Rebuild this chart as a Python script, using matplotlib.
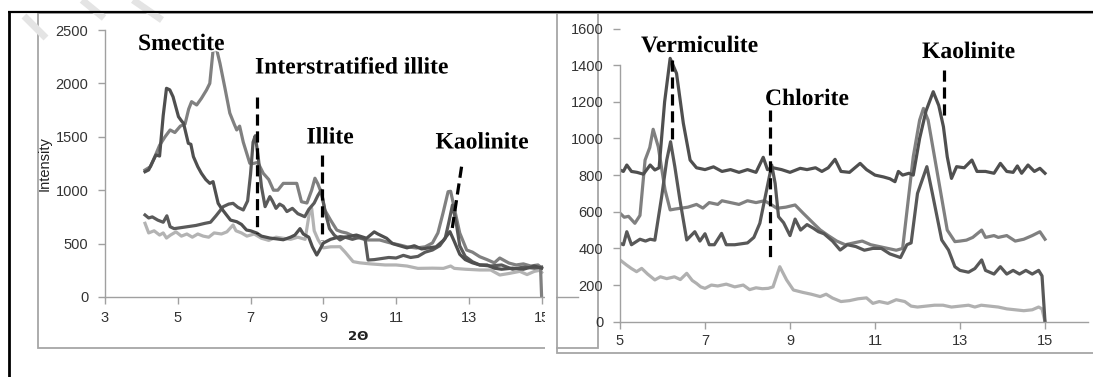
import matplotlib
matplotlib.use("Agg")
import matplotlib.pyplot as plt
import matplotlib.patheffects as pe
from matplotlib.patches import Rectangle

W, H = 1093, 377

# ---------------- Left chart data ----------------
left_xticks = [3, 5, 7, 9, 11, 13, 15]
left_yticks = [0, 500, 1000, 1500, 2000, 2500]

A_x = [4.1, 4.25, 4.37, 4.5, 4.65, 4.79, 4.92, 5.07, 5.2, 5.3, 5.38, 5.52, 5.65, 5.79, 5.88, 5.98, 6.05, 6.16, 6.3, 6.43, 6.55, 6.62, 6.7, 6.8, 6.98, 7.07, 7.2, 7.35, 7.5, 7.63, 7.75, 7.9, 8.1, 8.27, 8.4, 8.55, 8.68, 8.77, 8.85, 8.95, 9.04, 9.2, 9.37, 9.5, 9.64, 9.9, 10.2, 10.55, 10.8, 11.1, 11.3, 11.56, 11.8, 12.0, 12.15, 12.29, 12.43, 12.5, 12.57, 12.75, 12.94, 13.1, 13.3, 13.5, 13.7, 13.85, 14.1, 14.3, 14.5, 14.7, 14.9, 14.97, 15.0]
A_y = [1189, 1220, 1314, 1420, 1500, 1564, 1540, 1600, 1620, 1760, 1829, 1798, 1860, 1938, 2000, 2344, 2344, 2188, 1950, 1722, 1620, 1564, 1600, 1450, 1252, 1250, 1260, 1158, 1100, 1000, 1000, 1064, 1064, 1064, 892, 880, 1000, 1112, 1060, 972, 815, 720, 627, 610, 599, 560, 534, 534, 510, 487, 470, 459, 470, 506, 600, 786, 986, 990, 880, 599, 440, 420, 377, 350, 320, 365, 318, 300, 310, 290, 300, 280, 0]

B_x = [4.1, 4.2, 4.3, 4.4, 4.5, 4.6, 4.69, 4.78, 4.87, 5.02, 5.1, 5.16, 5.29, 5.36, 5.43, 5.55, 5.65, 5.77, 5.88, 5.97, 6.11, 6.2, 6.34, 6.45, 6.62, 6.75, 6.89, 7.0, 7.17, 7.3, 7.53, 7.7, 7.9, 8.1, 8.22, 8.36, 8.45, 8.6, 8.7, 8.82, 8.9, 9.0, 9.2, 9.46, 9.6, 9.91, 10.19, 10.4, 10.5, 10.74, 10.9, 11.1, 11.3, 11.5, 11.7, 11.9, 12.1, 12.3, 12.48, 12.6, 12.75, 12.9, 13.1, 13.3, 13.5, 13.7, 13.9, 14.2, 14.5, 14.8, 15.0]
B_y = [1173, 1190, 1260, 1330, 1320, 1700, 1954, 1940, 1875, 1688, 1650, 1625, 1439, 1430, 1314, 1220, 1158, 1100, 1064, 1080, 877, 830, 768, 720, 705, 680, 627, 620, 599, 570, 552, 545, 536, 560, 580, 640, 590, 560, 470, 393, 440, 505, 540, 565, 560, 580, 550, 610, 590, 550, 500, 480, 460, 480, 450, 460, 470, 530, 612, 520, 400, 350, 320, 300, 300, 270, 260, 270, 260, 290, 270]

C_x = [4.1, 4.2, 4.3, 4.45, 4.6, 4.7, 4.79, 4.9, 5.1, 5.3, 5.5, 5.75, 5.9, 6.05, 6.25, 6.4, 6.52, 6.65, 6.8, 6.92, 7.0, 7.07, 7.13, 7.21, 7.3, 7.4, 7.53, 7.6, 7.7, 7.8, 7.9, 8.0, 8.15, 8.3, 8.49, 8.6, 8.75, 8.85, 8.94, 9.05, 9.17, 9.3, 9.46, 9.6, 9.8, 10.0, 10.15, 10.23, 10.4, 10.6, 10.8, 11.0, 11.2, 11.4, 11.6, 11.8, 12.0, 12.2, 12.35, 12.45, 12.55, 12.65, 12.75, 12.9, 13.1, 13.3, 13.6, 13.9, 14.2, 14.5, 14.8, 15.0]
C_y = [768, 740, 750, 720, 700, 760, 658, 640, 650, 660, 670, 690, 700, 760, 846, 870, 877, 840, 815, 900, 1150, 1450, 1510, 1314, 1033, 846, 940, 900, 830, 870, 850, 800, 830, 780, 752, 820, 880, 950, 1000, 800, 640, 580, 534, 560, 540, 560, 540, 346, 350, 360, 370, 365, 390, 370, 380, 420, 440, 480, 550, 700, 861, 700, 480, 380, 330, 300, 290, 300, 260, 280, 270, 280]

D_x = [4.1, 4.2, 4.35, 4.5, 4.6, 4.69, 4.8, 4.95, 5.1, 5.25, 5.4, 5.55, 5.7, 5.85, 6.0, 6.2, 6.35, 6.52, 6.6, 6.75, 6.9, 7.1, 7.3, 7.5, 7.7, 7.9, 8.1, 8.3, 8.5, 8.63, 8.68, 8.75, 8.86, 9.0, 9.2, 9.46, 9.6, 9.82, 10.0, 10.3, 10.7, 11.0, 11.3, 11.6, 12.0, 12.3, 12.5, 12.6, 12.9, 13.3, 13.6, 13.85, 14.1, 14.4, 14.6, 14.8, 14.95, 15.0]
D_y = [690, 600, 620, 580, 600, 552, 580, 610, 570, 590, 560, 590, 570, 560, 600, 590, 610, 674, 620, 600, 570, 590, 550, 530, 560, 550, 540, 560, 540, 815, 830, 620, 534, 460, 470, 471, 420, 331, 320, 310, 300, 300, 290, 268, 270, 268, 290, 268, 260, 253, 253, 206, 220, 240, 210, 240, 250, 230]

# ---------------- Right chart data ----------------
right_xticks = [5, 7, 9, 11, 13, 15]
right_yticks = [0, 200, 400, 600, 800, 1000, 1200, 1400, 1600]

E_x = [5.0, 5.08, 5.16, 5.27, 5.4, 5.55, 5.71, 5.82, 5.92, 6.05, 6.18, 6.33, 6.49, 6.65, 6.8, 7.0, 7.2, 7.4, 7.6, 7.8, 8.0, 8.2, 8.37, 8.47, 8.6, 8.8, 9.0, 9.24, 9.4, 9.6, 9.75, 9.9, 10.06, 10.2, 10.4, 10.65, 10.8, 11.0, 11.2, 11.35, 11.47, 11.55, 11.65, 11.8, 11.9, 12.05, 12.2, 12.37, 12.5, 12.61, 12.7, 12.8, 12.92, 13.1, 13.28, 13.4, 13.6, 13.8, 13.95, 14.1, 14.25, 14.35, 14.45, 14.6, 14.75, 14.88, 15.0]
E_y = [828, 820, 855, 820, 815, 805, 855, 828, 840, 1200, 1437, 1355, 1083, 882, 840, 830, 845, 820, 830, 815, 830, 815, 897, 830, 840, 830, 815, 837, 830, 840, 820, 840, 886, 820, 815, 864, 830, 800, 790, 780, 764, 820, 800, 810, 800, 1000, 1150, 1255, 1180, 1064, 900, 782, 846, 840, 882, 820, 820, 810, 864, 820, 815, 850, 810, 855, 820, 837, 810]

F_x = [5.0, 5.1, 5.2, 5.35, 5.47, 5.59, 5.7, 5.78, 5.9, 6.06, 6.18, 6.3, 6.45, 6.6, 6.8, 6.95, 7.1, 7.3, 7.4, 7.6, 7.8, 8.0, 8.2, 8.4, 8.55, 8.69, 8.9, 9.12, 9.31, 9.55, 9.71, 9.9, 10.1, 10.3, 10.5, 10.7, 10.9, 11.1, 11.3, 11.5, 11.65, 11.75, 11.9, 12.05, 12.14, 12.25, 12.4, 12.55, 12.7, 12.88, 13.0, 13.15, 13.3, 13.51, 13.6, 13.8, 13.9, 14.1, 14.3, 14.5, 14.7, 14.88, 15.0]
F_y = [592, 570, 575, 537, 580, 882, 950, 1050, 955, 719, 610, 615, 620, 625, 640, 620, 650, 640, 660, 650, 640, 660, 650, 660, 640, 619, 625, 637, 592, 537, 501, 470, 440, 420, 430, 440, 420, 410, 400, 390, 400, 600, 900, 1100, 1164, 1100, 900, 700, 500, 437, 440, 445, 460, 500, 460, 470, 460, 470, 440, 450, 470, 491, 450]

G_x = [5.0, 5.08, 5.16, 5.27, 5.47, 5.6, 5.71, 5.82, 5.98, 6.1, 6.19, 6.29, 6.41, 6.57, 6.76, 6.88, 7.0, 7.1, 7.22, 7.39, 7.5, 7.7, 8.0, 8.15, 8.29, 8.45, 8.57, 8.65, 8.73, 8.85, 9.0, 9.12, 9.25, 9.4, 9.55, 9.67, 9.8, 10.0, 10.18, 10.35, 10.55, 10.75, 10.95, 11.15, 11.35, 11.6, 11.75, 11.85, 12.0, 12.22, 12.35, 12.57, 12.73, 12.88, 13.0, 13.2, 13.35, 13.51, 13.6, 13.8, 13.95, 14.1, 14.25, 14.4, 14.55, 14.7, 14.85, 14.93, 15.0]
G_y = [428, 420, 491, 420, 450, 440, 450, 445, 682, 882, 982, 846, 664, 446, 491, 440, 480, 420, 420, 482, 420, 420, 430, 460, 537, 719, 855, 755, 573, 540, 470, 560, 500, 530, 510, 491, 480, 440, 391, 420, 410, 390, 400, 400, 370, 350, 420, 430, 700, 846, 700, 446, 391, 300, 280, 270, 290, 337, 280, 260, 300, 260, 280, 260, 280, 260, 280, 250, 0]

H_x = [5.0, 5.15, 5.27, 5.39, 5.51, 5.65, 5.82, 5.95, 6.1, 6.28, 6.42, 6.57, 6.7, 6.8, 6.9, 7.0, 7.15, 7.3, 7.5, 7.7, 7.9, 8.05, 8.2, 8.35, 8.49, 8.6, 8.76, 8.92, 9.08, 9.3, 9.5, 9.71, 9.85, 10.0, 10.2, 10.4, 10.6, 10.8, 10.95, 11.1, 11.3, 11.5, 11.7, 11.85, 12.0, 12.2, 12.4, 12.6, 12.8, 13.0, 13.2, 13.35, 13.5, 13.7, 13.9, 14.1, 14.3, 14.5, 14.7, 14.85, 14.93, 15.0]
H_y = [337, 310, 290, 273, 291, 260, 228, 245, 235, 245, 230, 264, 225, 209, 190, 182, 200, 195, 205, 190, 200, 175, 185, 180, 182, 190, 300, 228, 173, 160, 150, 137, 150, 129, 110, 115, 125, 130, 100, 110, 100, 120, 110, 85, 80, 85, 90, 90, 80, 85, 90, 80, 90, 85, 80, 70, 65, 60, 65, 80, 70, 0]

# ---------------- Figure ----------------
fig = plt.figure(figsize=(W / 100, H / 100), dpi=100)
fig.patch.set_facecolor("white")


def frac(px_left, px_top, px_right, px_bottom):
    return [px_left / W, 1 - px_bottom / H, (px_right - px_left) / W, (px_bottom - px_top) / H]


# background overlay (frames)
bg = fig.add_axes([0, 0, 1, 1], zorder=-5)
bg.set_xlim(0, W)
bg.set_ylim(H, 0)
bg.axis("off")
for (x0, y0, x1, y1) in [(24, 16, 46, 38), (82, 0, 104, 18), (133, 0, 162, 20)]:
    bg.plot([x0, x1], [y0, y1], color="#e4e4e4", lw=5, solid_capstyle="butt")
bg.add_patch(Rectangle((38, 12.7), 560, 335.3, fill=False, edgecolor="#a6a6a6", lw=1.3))
bg.add_patch(Rectangle((557, 12.5), 600, 340, fill=False, edgecolor="#a6a6a6", lw=1.3))

grey_spine = "#a0a0a0"
tick_color = "#333333"
tick_font = dict(family="Liberation Sans", size=10.5)
ann_font = dict(family="Liberation Serif", weight="bold", size=17)
stroke = [pe.withStroke(linewidth=2.5, foreground="white")]


def style_axes(ax):
    ax.set_facecolor("none")
    for s in ["top", "right"]:
        ax.spines[s].set_visible(False)
    for s in ["left", "bottom"]:
        ax.spines[s].set_color(grey_spine)
        ax.spines[s].set_linewidth(1.0)
    ax.tick_params(axis="both", colors=grey_spine, length=5, width=1.0,
                   labelcolor=tick_color, pad=7)
    for lbl in ax.get_xticklabels() + ax.get_yticklabels():
        lbl.set_fontfamily(tick_font["family"])
        lbl.set_fontsize(tick_font["size"])


# ---------------- Left axes ----------------
axL = fig.add_axes(frac(105, 30, 578, 297), zorder=1)
axL.set_xlim(3, 16)
axL.set_ylim(0, 2500)
axL.set_xticks(left_xticks)
axL.set_yticks(left_yticks)
style_axes(axL)
axL.tick_params(axis="x", pad=5)
lw = 2.3
axL.plot(D_x, D_y, color="#b3b3b3", lw=lw, solid_joinstyle="round")
axL.plot(A_x, A_y, color="#808080", lw=lw, solid_joinstyle="round")
axL.plot(C_x, C_y, color="#5a5a5a", lw=lw, solid_joinstyle="round")
axL.plot(B_x, B_y, color="#4f4f4f", lw=lw, solid_joinstyle="round")

dash = dict(color="black", lw=2.3, linestyle=(0, (3.5, 1.8)))
axL.plot([7.17, 7.17], [1875, 600], **dash)
axL.plot([8.97, 8.97], [1330, 534], **dash)
axL.plot([12.8, 12.53], [1220, 612], **dash)

axL.set_xlabel("2Θ", family="DejaVu Sans", weight="bold", size=9.5, color="#222222")
axL.xaxis.set_label_coords((358 - 105) / (578 - 105), -0.125)
axL.set_ylabel("Intensity", family="Liberation Sans", size=10.5, color="#222222")
axL.yaxis.set_label_coords((52 - 105) / (578 - 105), (297 - 164) / 267)

# ---------------- Right axes ----------------
yr0 = 321.7
yr1600 = 321.7 - 1600 * 36.65 / 200
axR = fig.add_axes(frac(620, yr1600, 1087.5, yr0), zorder=1)
axR.set_xlim(5, 16)
axR.set_ylim(0, 1600)
axR.set_xticks(right_xticks)
axR.set_yticks(right_yticks)
style_axes(axR)
axR.spines["left"].set_bounds(0, 1400)
axR.tick_params(axis="x", pad=4)
axR.plot(H_x, H_y, color="#b0b0b0", lw=lw, solid_joinstyle="round")
axR.plot(F_x, F_y, color="#808080", lw=lw, solid_joinstyle="round")
axR.plot(G_x, G_y, color="#585858", lw=lw, solid_joinstyle="round")
axR.plot(E_x, E_y, color="#4f4f4f", lw=lw, solid_joinstyle="round")

axR.plot([6.22, 6.22], [1428, 973], **dash)
axR.plot([8.53, 8.53], [1155, 327], **dash)
axR.plot([12.63, 12.63], [1373, 1110], **dash)

# ---------------- Foreground overlay ----------------
fg = fig.add_axes([0, 0, 1, 1], zorder=10)
fg.set_xlim(0, W)
fg.set_ylim(H, 0)
fg.axis("off")
fg.patch.set_alpha(0)
fg.add_patch(Rectangle((545, 13.5), 11.2, 363, facecolor="white", edgecolor="none"))
fg.plot([8, W], [12, 12], color="black", lw=1.6, solid_capstyle="butt")
fg.plot([8.5, 8.5], [11.2, H], color="black", lw=2.0, solid_capstyle="butt")

for txt, x, y in [("Smectite", 138, 50), ("Interstratified illite", 255, 73.5),
                  ("Illite", 306.5, 143.5), ("Kaolinite", 435.5, 148.5),
                  ("Vermiculite", 641, 52), ("Chlorite", 765, 105),
                  ("Kaolinite", 922, 58)]:
    fg.text(x, y, txt, ha="left", va="baseline", color="black", path_effects=stroke, **ann_font)

fig.savefig("out.png", dpi=100, facecolor="white")
